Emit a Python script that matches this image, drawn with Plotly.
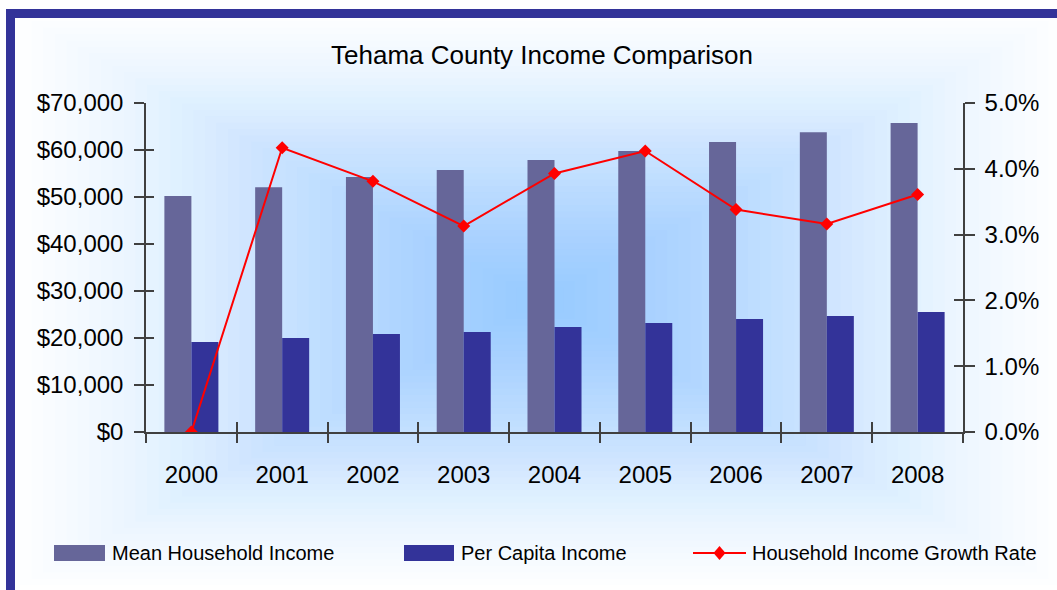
import plotly.graph_objects as go

# Tehama County income figures, 2000-2008
years = ["2000", "2001", "2002", "2003", "2004", "2005", "2006", "2007", "2008"]
mean_household_income = [50200, 52100, 54250, 55750, 57850, 59800, 61700, 63800, 65750]
per_capita_income = [19150, 20000, 20850, 21300, 22350, 23200, 24050, 24700, 25550]
household_growth_rate = [0.0, 0.0432, 0.0381, 0.0313, 0.0393, 0.0427, 0.0338, 0.0316, 0.0361]

income_ticks = [0, 10000, 20000, 30000, 40000, 50000, 60000, 70000]
rate_ticks = [0.0, 0.01, 0.02, 0.03, 0.04, 0.05]

W, H = 1057, 590
L, R, T, B = 146, 94, 103, 158
PW, PH = W - L - R, H - T - B

FONT = "Liberation Sans, Arial, sans-serif"
MEAN_COLOR = "#666699"
CAPITA_COLOR = "#333399"
LINE_COLOR = "#FF0000"
AXIS_COLOR = "#404040"


def px(x):
    return (x - L) / PW


def py(y):
    return 1 - (y - T) / PH


fig = go.Figure()
fig.add_trace(go.Bar(x=years, y=mean_household_income, name="Mean Household Income",
                     marker=dict(color=MEAN_COLOR, line=dict(width=0))))
fig.add_trace(go.Bar(x=years, y=per_capita_income, name="Per Capita Income",
                     marker=dict(color=CAPITA_COLOR, line=dict(width=0))))
fig.add_trace(go.Scatter(x=years, y=household_growth_rate, name="Household Income Growth Rate",
                         yaxis="y2", mode="lines+markers",
                         line=dict(color=LINE_COLOR, width=2),
                         marker=dict(symbol="diamond", size=10, color=LINE_COLOR)))
# empty traces that carry the inner halves of the crossing tick marks
fig.add_trace(go.Scatter(x=years, y=[None] * len(years), xaxis="x2", yaxis="y3",
                         mode="markers", showlegend=False, hoverinfo="skip"))
fig.add_trace(go.Scatter(x=years, y=[None] * len(years), xaxis="x", yaxis="y4",
                         mode="markers", showlegend=False, hoverinfo="skip"))

shapes = []

# soft blue rectangular glow behind the chart
cx, cy, hw, hh = 540, 300, 520, 285
N, p = 45, 1.1
prev = 0.0
for k in range(1, N + 1):
    s = 1 - (k - 1) / N
    F = (k / N) ** p
    a = (F - prev) / (1 - prev) if prev < 1 else 1
    prev = F
    shapes.append(dict(type="rect", xref="paper", yref="paper", layer="below",
                       x0=px(cx - hw * s), x1=px(cx + hw * s),
                       y0=py(cy + hh * s), y1=py(cy - hh * s),
                       line=dict(width=0), fillcolor=f"rgba(153,204,255,{a:.4f})"))

# frame along the top and left edges
shapes.append(dict(type="rect", xref="paper", yref="paper", layer="above",
                   x0=px(6), x1=px(W + 2), y0=py(18), y1=py(9),
                   line=dict(width=0), fillcolor=CAPITA_COLOR))
shapes.append(dict(type="rect", xref="paper", yref="paper", layer="above",
                   x0=px(6), x1=px(15), y0=py(H + 2), y1=py(9),
                   line=dict(width=0), fillcolor=CAPITA_COLOR))

# legend swatches
ly = 553
shapes.append(dict(type="rect", xref="paper", yref="paper",
                   x0=px(54), x1=px(105), y0=py(ly + 8), y1=py(ly - 8),
                   line=dict(width=0), fillcolor=MEAN_COLOR))
shapes.append(dict(type="rect", xref="paper", yref="paper",
                   x0=px(404), x1=px(454), y0=py(ly + 8), y1=py(ly - 8),
                   line=dict(width=0), fillcolor=CAPITA_COLOR))
shapes.append(dict(type="line", xref="paper", yref="paper",
                   x0=px(693), x1=px(746), y0=py(ly), y1=py(ly),
                   line=dict(width=2, color=LINE_COLOR)))
dx, dy = 6, 7
shapes.append(dict(type="path", xref="paper", yref="paper",
                   path=(f"M{px(719.5 - dx)},{py(ly)} L{px(719.5)},{py(ly - dy)} "
                         f"L{px(719.5 + dx)},{py(ly)} L{px(719.5)},{py(ly + dy)} Z"),
                   line=dict(width=0), fillcolor=LINE_COLOR))

annotations = []
for label, x0 in [(fig.data[0].name, 110), (fig.data[1].name, 459), (fig.data[2].name, 750)]:
    annotations.append(dict(text=label, xref="paper", yref="paper", x=px(x0), y=py(ly),
                            xanchor="left", yanchor="middle", showarrow=False,
                            font=dict(family=FONT, size=20, color="black")))

tick_common = dict(tickcolor=AXIS_COLOR, tickwidth=1.5, showgrid=False, zeroline=False)

fig.update_layout(
    width=W, height=H, autosize=False,
    margin=dict(l=L, r=R, t=T, b=B),
    paper_bgcolor="white", plot_bgcolor="rgba(0,0,0,0)",
    showlegend=False,
    barmode="group", bargap=0.405, bargroupgap=0,
    font=dict(family=FONT, color="black"),
    title=dict(text="Tehama County Income Comparison", xref="container", yref="container",
               x=542 / W, y=1 - 55 / H, xanchor="center", yanchor="middle",
               font=dict(family=FONT, size=26, color="black")),
    xaxis=dict(type="category", categoryorder="array", categoryarray=years,
               range=[-0.5, len(years) - 0.5], tickson="boundaries",
               ticks="outside", ticklen=9, showline=True, linecolor=AXIS_COLOR, linewidth=1.5,
               tickfont=dict(size=24), ticklabelstandoff=20, **tick_common),
    xaxis2=dict(type="category", categoryorder="array", categoryarray=years,
                overlaying="x", anchor="y", range=[-0.5, len(years) - 0.5],
                tickson="boundaries", ticks="inside", ticklen=10,
                showticklabels=False, showline=False, **tick_common),
    yaxis=dict(range=[0, 70000], tickvals=income_ticks, tickformat="$,.0f",
               ticks="outside", ticklen=10, showline=True, linecolor=AXIS_COLOR, linewidth=1.5,
               tickfont=dict(size=24), ticklabelstandoff=6, **tick_common),
    yaxis2=dict(range=[0, 0.05], tickvals=rate_ticks, tickformat=".1%",
                overlaying="y", side="right", anchor="x",
                ticks="outside", ticklen=10, showline=True, linecolor=AXIS_COLOR, linewidth=1.5,
                tickfont=dict(size=24), ticklabelstandoff=5, **tick_common),
    yaxis3=dict(range=[0, 70000], tickvals=income_ticks, overlaying="y", side="left",
                anchor="x", ticks="inside", ticklen=8, showticklabels=False,
                showline=False, **tick_common),
    yaxis4=dict(range=[0, 0.05], tickvals=rate_ticks, overlaying="y", side="right",
                anchor="x", ticks="inside", ticklen=9, showticklabels=False,
                showline=False, **tick_common),
    shapes=shapes,
    annotations=annotations,
)

fig.write_html("out.html")
